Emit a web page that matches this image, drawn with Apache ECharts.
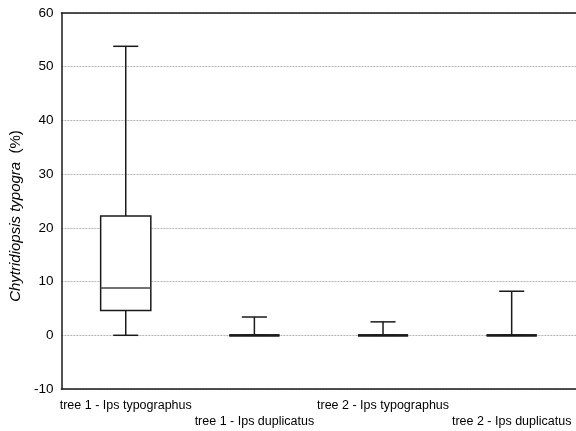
<!DOCTYPE html>
<html>
<head>
<meta charset="utf-8">
<script src="https://cdn.jsdelivr.net/npm/echarts@6/dist/echarts.min.js"></script>
<style>
  html, body { margin: 0; padding: 0; background: #fff; }
  #chart { width: 576px; height: 431px; }
</style>
</head>
<body>
<div id="chart"></div>
<script>
// categories and box stats
var categories = ['tree 1 - Ips typographus', 'tree 1 - Ips duplicatus', 'tree 2 - Ips typographus', 'tree 2 - Ips duplicatus'];
var minVals = [0, 0, 0, 0];
var q1Vals = [4.6, 0, 0, 0];
var medianVals = [8.8, 0, 0, 0];
var q3Vals = [22.2, 0, 0, 0];
var maxVals = [53.8, 3.4, 2.5, 8.2];
var yTicks = [-10, 0, 10, 20, 30, 40, 50, 60];

var font = 'Arial, "Liberation Sans", sans-serif';
var ink = '#1a1a1a';

var boxData = categories.map(function (c, i) {
  return [i, minVals[i], q1Vals[i], medianVals[i], q3Vals[i], maxVals[i]];
});

function renderBox(params, api) {
  var i = api.value(0);
  var band = api.size([1, 0])[0];
  var half = band * 0.195;
  var cap = half / 2;
  var pMin = api.coord([i, api.value(1)]);
  var pQ1 = api.coord([i, api.value(2)]);
  var pMed = api.coord([i, api.value(3)]);
  var pQ3 = api.coord([i, api.value(4)]);
  var pMax = api.coord([i, api.value(5)]);
  var cx = pMin[0];
  var flat = pQ1[1] - pQ3[1] < 1;
  var st = { stroke: ink, lineWidth: 1.5, fill: null };
  return {
    type: 'group',
    children: [
      { type: 'line', shape: { x1: cx, y1: pMax[1], x2: cx, y2: pQ3[1] }, style: st },
      { type: 'line', shape: { x1: cx, y1: pQ1[1], x2: cx, y2: pMin[1] }, style: st },
      { type: 'line', shape: { x1: cx - cap, y1: pMax[1], x2: cx + cap, y2: pMax[1] }, style: st },
      { type: 'line', shape: { x1: cx - cap, y1: pMin[1], x2: cx + cap, y2: pMin[1] }, style: st },
      { type: 'rect', shape: { x: cx - half, y: pQ3[1], width: half * 2, height: pQ1[1] - pQ3[1] },
        style: { stroke: ink, lineWidth: flat ? 2.2 : 1.5, fill: '#fff' } },
      { type: 'line', shape: { x1: cx - half, y1: pMed[1], x2: cx + half, y2: pMed[1] },
        style: { stroke: flat ? ink : '#444', lineWidth: flat ? 2.2 : 1.5 } }
    ]
  };
}

var chart = echarts.init(document.getElementById('chart'));
chart.setOption({
  animation: false,
  backgroundColor: '#fff',
  textStyle: { fontFamily: font },
  grid: { left: 61, right: -4, top: 13, bottom: 42 },
  xAxis: [{
    type: 'category',
    data: categories,
    position: 'bottom',
    axisLine: { onZero: false, lineStyle: { color: ink, width: 1.5 } },
    axisTick: { inside: true, length: 4, alignWithLabel: true, lineStyle: { color: ink } },
    axisLabel: {
      interval: 0,
      margin: 9,
      color: '#000',
      fontSize: 12.5,
      lineHeight: 16,
      fontFamily: font,
      formatter: function (v, i) { return i % 2 ? '\n' + v : v; }
    },
    splitLine: { show: false }
  }, {
    type: 'category',
    data: categories,
    position: 'top',
    axisLine: { onZero: false, lineStyle: { color: ink, width: 1.5 } },
    axisTick: { inside: true, length: 3, alignWithLabel: true, lineStyle: { color: ink } },
    axisLabel: { show: false },
    splitLine: { show: false }
  }],
  yAxis: {
    type: 'value',
    min: yTicks[0],
    max: yTicks[yTicks.length - 1],
    interval: 10,
    axisLine: { show: true, lineStyle: { color: ink, width: 1.5 } },
    axisTick: { show: false },
    axisLabel: { color: '#000', fontSize: 13.5, margin: 8, fontFamily: font },
    splitLine: { show: true, lineStyle: { color: '#b4b4b4', type: [2, 1], width: 1 } },
    name: '{i|Chytridiopsis typogra}  (%)',
    nameLocation: 'middle',
    nameGap: 34,
    nameRotate: 90,
    nameTextStyle: {
      color: '#000',
      fontSize: 15,
      fontFamily: font,
      padding: [0, 30, 0, 0],
      rich: { i: { fontStyle: 'italic', fontSize: 15, color: '#000', fontFamily: font } }
    }
  },
  series: [{
    type: 'custom',
    xAxisIndex: 0,
    renderItem: renderBox,
    encode: { x: 0, y: [1, 2, 3, 4, 5] },
    data: boxData,
    z: 5
  }]
});
</script>
</body>
</html>
